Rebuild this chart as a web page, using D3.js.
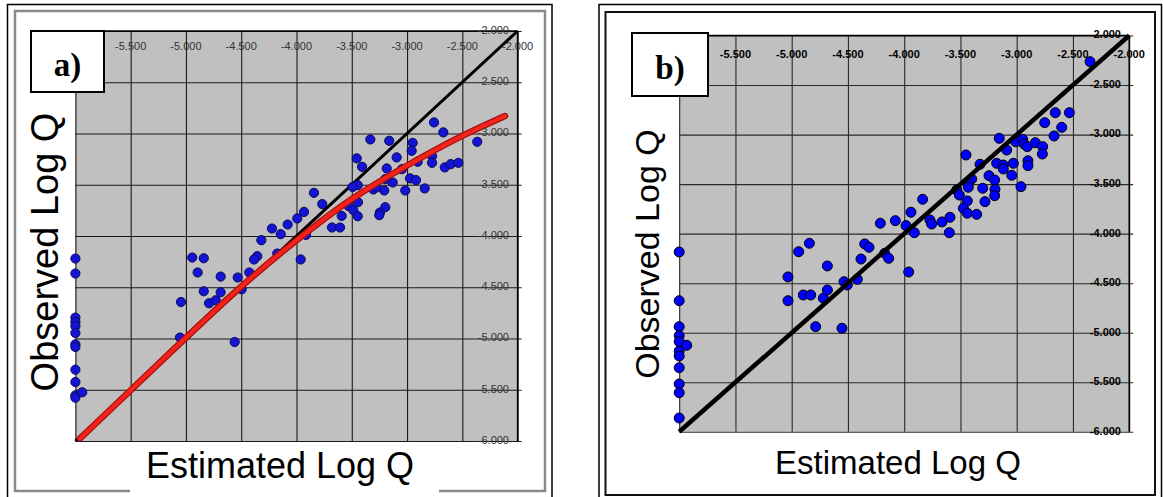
<!DOCTYPE html>
<html>
<head>
<meta charset="utf-8">
<script src="https://cdn.jsdelivr.net/npm/d3@7"></script>
<style>
  html, body { margin: 0; padding: 0; background: #fff; }
  svg { display: block; }
</style>
</head>
<body>
<svg id="chart" width="1163" height="497"></svg>
<script>
// ---------------- DATA ----------------
const tickValues = [-6.0, -5.5, -5.0, -4.5, -4.0, -3.5, -3.0, -2.5, -2.0];
const xTickLabels = ["-6.000", "-5.500", "-5.000", "-4.500", "-4.000", "-3.500", "-3.000", "-2.500", "-2.000"];
const yTickLabels = ["-6.000", "-5.500", "-5.000", "-4.500", "-4.000", "-3.500", "-3.000", "-2.500", "-2.000"];
const axisDomain = [-6, -2];
const oneToOneLine = [-6, -2];

// Panel a) : estimated vs observed log Q
const panelA_est = [
  -2.756, -2.672, -2.365, -3.332, -3.161, -2.949, -2.958, -3.094, -3.455, -3.407,
  -3.184, -3.046, -2.904, -2.774, -2.774, -2.659, -2.605, -2.536, -3.130, -3.197,
  -2.973, -2.919, -3.016, -2.840, -3.305, -3.275, -3.206, -3.446, -3.492, -3.842,
  -3.767, -3.444, -3.528, -3.486, -3.446, -3.591, -3.197, -3.245, -3.251, -3.679,
  -3.606, -3.932, -3.993, -4.080, -4.222, -4.143, -3.914, -4.318, -4.355, -4.384,
  -4.174, -3.962, -4.943, -4.839, -4.894, -4.686, -4.532, -4.427, -4.839, -4.686,
  -4.496, -4.791, -4.731, -5.045, -5.054, -4.559,
  -6.0, -6.0, -6.0, -6.0, -6.0, -6.0, -6.0, -6.0, -6.0, -6.0, -6.0, -6.0, -5.938
];
const panelA_obs = [
  -2.892, -2.989, -3.081, -3.058, -3.071, -3.091, -3.169, -3.233, -3.243, -3.325,
  -3.341, -3.348, -3.276, -3.221, -3.286, -3.331, -3.299, -3.286, -3.478, -3.445,
  -3.438, -3.455, -3.556, -3.536, -3.546, -3.526, -3.556, -3.504, -3.521, -3.579,
  -3.689, -3.670, -3.709, -3.748, -3.807, -3.804, -3.719, -3.771, -3.797, -3.917,
  -3.917, -3.765, -3.829, -3.888, -3.927, -3.982, -3.989, -4.041, -4.197, -4.229,
  -4.171, -4.229, -4.210, -4.217, -4.356, -4.396, -4.405, -4.356, -4.539, -4.549,
  -4.520, -4.656, -4.627, -4.644, -4.991, -5.034,
  -4.220, -4.366, -4.796, -4.839, -4.881, -4.946, -5.057, -5.083, -5.304, -5.425, -5.555, -5.577, -5.525
];
// red fitted curve (panel a)
const curveA_est = [-5.958, -5.235, -4.511, -4.004, -3.497, -2.999, -2.501, -2.114];
const curveA_obs = [-5.975, -5.232, -4.490, -4.041, -3.621, -3.309, -3.016, -2.830];

// Panel b)
const panelB_est = [
  -2.348, -2.532, -2.657, -2.751, -2.600, -2.668, -3.155, -3.009, -2.947, -2.935,
  -2.906, -2.835, -2.769, -2.772, -3.089, -3.451, -3.326, -3.178, -3.119, -3.119,
  -3.030, -2.900, -2.900, -3.044, -3.246, -3.196, -3.400, -3.430, -3.533, -3.510,
  -3.430, -3.302, -3.193, -3.196, -2.962, -3.439, -3.282, -3.474, -3.439, -3.356,
  -3.836, -3.940, -4.079, -4.212, -3.984, -3.910, -3.771, -3.756, -3.664, -3.593,
  -3.599, -4.351, -4.313, -4.173, -4.138, -4.384, -3.960, -4.843, -4.938, -4.683,
  -5.033, -5.033, -4.897, -4.831, -4.719, -4.683, -4.535, -4.506, -4.417, -4.787, -4.553,
  -6.0, -6.0, -6.0, -6.0, -6.0, -6.0, -6.0, -6.0, -6.0, -6.0, -6.0, -5.933
];
const panelB_obs = [
  -2.264, -2.779, -2.779, -2.880, -2.927, -3.014, -3.038, -3.072, -3.048, -3.095,
  -3.122, -3.082, -3.122, -3.196, -3.156, -3.206, -3.300, -3.290, -3.307, -3.347,
  -3.290, -3.264, -3.314, -3.411, -3.415, -3.458, -3.448, -3.492, -3.559, -3.610,
  -3.532, -3.542, -3.552, -3.617, -3.526, -3.670, -3.677, -3.744, -3.794, -3.805,
  -3.653, -3.784, -3.869, -3.895, -3.919, -3.990, -3.862, -3.903, -3.882, -3.835,
  -3.990, -4.104, -4.138, -4.198, -4.249, -4.256, -4.387, -4.097, -4.182, -4.326,
  -4.437, -4.677, -4.619, -4.619, -4.652, -4.569, -4.485, -4.518, -4.461, -4.939, -4.955,
  -4.185, -4.677, -4.939, -5.030, -5.090, -5.184, -5.235, -5.353, -5.517, -5.605, -5.861, -5.127
];

const xTitle = "Estimated Log Q";
const yTitle = "Observed Log Q";
const panelLabels = ["a)", "b)"];

// ---------------- DRAW ----------------
const svg = d3.select("#chart");

function frames() {
  const fa = svg.append("g");
  fa.append("path").attr("d", "M7.5,510 V4.5 H552 V510")
    .attr("fill", "none").attr("stroke", "#000").attr("stroke-width", 1.5);
  fa.append("rect").attr("x", 15).attr("y", 11).attr("width", 530).attr("height", 480)
    .attr("fill", "none").attr("stroke", "#8a8a8a").attr("stroke-width", 2.5);
  const fb = svg.append("g");
  fb.append("path").attr("d", "M599,510 V4.5 H1161.5 V510")
    .attr("fill", "none").attr("stroke", "#000").attr("stroke-width", 1.5);
  fb.append("rect").attr("x", 605.5).attr("y", 12).attr("width", 549.5).attr("height", 483)
    .attr("fill", "none").attr("stroke", "#111").attr("stroke-width", 2);
}
frames();

function drawPanel(cfg) {
  const g = svg.append("g");
  const x = d3.scaleLinear().domain(axisDomain).range(cfg.xr);
  const y = d3.scaleLinear().domain([axisDomain[1], axisDomain[0]]).range(cfg.yr);
  const pw = cfg.xr[1] - cfg.xr[0], ph = cfg.yr[1] - cfg.yr[0];

  g.append("rect").attr("x", cfg.xr[0]).attr("y", cfg.yr[0])
    .attr("width", pw).attr("height", ph).attr("fill", "#c0c0c0");

  const gx = g.append("g").attr("transform", `translate(0,${cfg.yr[0]})`)
    .call(d3.axisBottom(x).tickValues(tickValues).tickSize(ph).tickFormat(""));
  gx.select(".domain").remove();
  gx.selectAll("line").attr("stroke", cfg.gridColor).attr("stroke-width", 1.1);

  const gy = g.append("g").attr("transform", `translate(${cfg.xr[0]},0)`)
    .call(d3.axisRight(y).tickValues(tickValues).tickSize(pw + 4).tickFormat(""));
  gy.select(".domain").remove();
  gy.selectAll("line").attr("stroke", cfg.gridColor).attr("stroke-width", 1.1);

  g.append("line").attr("x1", cfg.xr[0]).attr("x2", cfg.xr[1]).attr("y1", cfg.yr[0]).attr("y2", cfg.yr[0])
    .attr("stroke", "#000").attr("stroke-width", 1.5);
  g.append("line").attr("x1", cfg.xr[1]).attr("x2", cfg.xr[1]).attr("y1", cfg.yr[0]).attr("y2", cfg.yr[1])
    .attr("stroke", "#000").attr("stroke-width", 1.5);

  const lineGen = d3.line().x(d => x(d[0])).y(d => y(d[1]));
  const diag = oneToOneLine.map(v => [v, v]);

  if (cfg.lineUnder) {
    g.append("path").attr("d", lineGen(diag)).attr("fill", "none")
      .attr("stroke", "#000").attr("stroke-width", cfg.diagWidth);
  }

  const pts = cfg.est.map((e, i) => [e, cfg.obs[i]]);
  g.append("g").selectAll("circle").data(pts).join("circle")
    .attr("cx", d => x(d[0])).attr("cy", d => y(d[1])).attr("r", cfg.r)
    .attr("fill", cfg.dotFill).attr("stroke", cfg.dotStroke).attr("stroke-width", 1);

  if (!cfg.lineUnder) {
    g.append("path").attr("d", lineGen(diag)).attr("fill", "none")
      .attr("stroke", "#000").attr("stroke-width", cfg.diagWidth);
  }

  if (cfg.curve) {
    const cg = d3.line().x(d => x(d[0])).y(d => y(d[1])).curve(d3.curveBasis);
    const cpts = cfg.curve[0].map((e, i) => [e, cfg.curve[1][i]]);
    g.append("path").attr("d", cg(cpts)).attr("fill", "none")
      .attr("stroke", "#a81010").attr("stroke-width", 6.5).attr("stroke-linecap", "round");
    g.append("path").attr("d", cg(cpts)).attr("fill", "none")
      .attr("stroke", "#f2231b").attr("stroke-width", 4).attr("stroke-linecap", "round");
  }

  g.append("g").selectAll("text").data(tickValues.slice(1)).join("text")
    .attr("x", d => x(d)).attr("y", cfg.topLabelY)
    .attr("text-anchor", "middle").attr("dominant-baseline", "middle")
    .attr("font-family", "Liberation Sans, Arial, sans-serif")
    .attr("font-size", cfg.tickFont).attr("font-weight", cfg.tickWeight)
    .attr("fill", cfg.tickColor)
    .text(d => xTickLabels[tickValues.indexOf(d)]);

  g.append("g").selectAll("text").data(tickValues).join("text")
    .attr("x", cfg.rightLabelX).attr("y", d => y(d))
    .attr("text-anchor", "end").attr("dominant-baseline", "middle")
    .attr("font-family", "Liberation Sans, Arial, sans-serif")
    .attr("font-size", cfg.tickFont).attr("font-weight", cfg.tickWeight)
    .attr("fill", cfg.tickColor)
    .text(d => yTickLabels[tickValues.indexOf(d)]);

  g.append("rect").attr("x", cfg.box[0]).attr("y", cfg.box[1]).attr("width", cfg.box[2]).attr("height", cfg.box[3])
    .attr("fill", "#fff").attr("stroke", "#000").attr("stroke-width", 2);
  g.append("text").attr("x", cfg.box[0] + cfg.box[2] / 2).attr("y", cfg.box[1] + cfg.box[3] * 0.73)
    .attr("text-anchor", "middle").attr("font-family", "Liberation Serif, Times New Roman, serif")
    .attr("font-weight", "bold").attr("font-size", 33).text(cfg.label);

  if (cfg.titleGap) {
    g.append("rect").attr("x", cfg.titleGap[0]).attr("y", cfg.titleGap[1])
      .attr("width", cfg.titleGap[2]).attr("height", cfg.titleGap[3]).attr("fill", "#fff");
  }
  g.append("text").attr("x", cfg.xTitlePos[0]).attr("y", cfg.xTitlePos[1])
    .attr("text-anchor", "middle").attr("font-family", "Liberation Sans, Arial, sans-serif")
    .attr("font-size", cfg.xTitleFont).attr("fill", "#000").text(xTitle);
  g.append("text").attr("transform", `translate(${cfg.yTitlePos[0]},${cfg.yTitlePos[1]}) rotate(-90)`)
    .attr("text-anchor", "middle").attr("font-family", "Liberation Sans, Arial, sans-serif")
    .attr("font-size", cfg.yTitleFont).attr("fill", "#000").text(yTitle);
}

drawPanel({
  xr: [75.4, 517.6], yr: [31, 441],
  est: panelA_est, obs: panelA_obs,
  curve: [curveA_est, curveA_obs],
  lineUnder: true, diagWidth: 3,
  r: 4.6, dotFill: "#1414d6", dotStroke: "#0a0a55",
  gridColor: "#1a1a1a",
  topLabelY: 47, rightLabelX: 509,
  tickFont: 11, tickWeight: "normal", tickColor: "#333",
  box: [31, 31, 73, 61], label: panelLabels[0],
  titleGap: [130, 449, 309, 48],
  xTitlePos: [280, 478], yTitlePos: [58, 252], xTitleFont: 36, yTitleFont: 38
});

drawPanel({
  xr: [679.2, 1129.2], yr: [35.5, 431.8],
  est: panelB_est, obs: panelB_obs,
  curve: null,
  lineUnder: false, diagWidth: 4.5,
  r: 5, dotFill: "#0000ff", dotStroke: "#000",
  gridColor: "#2a2a2a",
  topLabelY: 55, rightLabelX: 1121,
  tickFont: 11, tickWeight: "bold", tickColor: "#000",
  box: [632, 33, 76, 63], label: panelLabels[1],
  titleGap: null,
  xTitlePos: [898, 474], yTitlePos: [659, 254], xTitleFont: 33, yTitleFont: 34
});
</script>
</body>
</html>
